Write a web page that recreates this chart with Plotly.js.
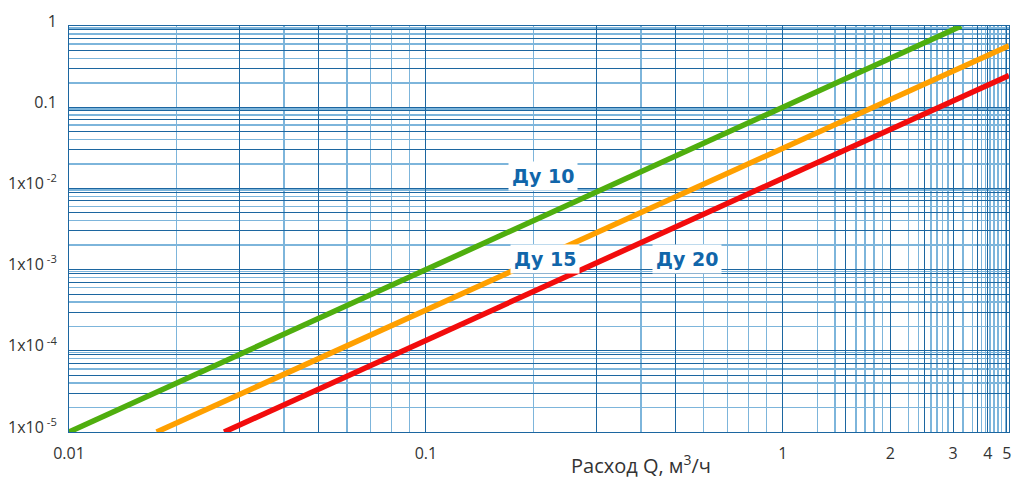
<!DOCTYPE html>
<html>
<head>
<meta charset="utf-8">
<script src="https://cdn.plot.ly/plotly-3.0.1.min.js"></script>
<style>html,body{margin:0;padding:0;background:#fff;}#chart{width:1014px;height:481px;}</style>
</head>
<body>
<div id="chart"></div>
<script>
// Series (flow Q, m3/h  ->  pressure drop)
const seriesNames = ['Ду 10', 'Ду 15', 'Ду 20'];
const q_du10 = [0.01, 3.16];
const dp_du10 = [1e-5, 1.0];
const q_du15 = [0.0176, 4.3];
const dp_du15 = [1e-5, 0.57];
const q_du20 = [0.0272, 4.3];
const dp_du20 = [1e-5, 0.245];

// Series label anchor points (data coords)
const labelQ = [0.213, 0.215, 0.538];
const labelDp = [0.0142, 0.00135, 0.00135];

// Tick labels
const xTickLabels = ['0.01', '0.1', '1', '2', '3', '4', '5'];
const xTickAt = [0.01, 0.1, 1, 2, 3, 3.75, 4.24];
const yTickLabels = ['1x10<sup> -5</sup>', '1x10<sup> -4</sup>', '1x10<sup> -3</sup>', '1x10<sup> -2</sup>', '0.1', '1'];
const yTickAt = [1e-5, 1e-4, 1e-3, 1e-2, 0.1, 1];

const xTitle = 'Расход Q, м<sup>3</sup>/ч';

// ---- grid values (layout only) ----
const darkBlue = '#1c66a0';
const lightBlue = '#7db5db';
function round(v){ return parseFloat(v.toPrecision(6)); }

// X grid
const xDarkMult = [1, 3, 5];
const xLightMult = [2, 4, 6, 7, 8, 9];
const xDark = [], xLight = [];
[-2, -1].forEach(k => {
  xDarkMult.forEach(m => xDark.push(round(m * Math.pow(10, k))));
  xLightMult.forEach(m => xLight.push(round(m * Math.pow(10, k))));
});
[1, 1.5, 2, 2.5, 3, 3.5].forEach(v => xDark.push(v));
[1.25, 1.4, 1.6, 1.7, 1.8, 1.9, 2.25, 2.4, 2.6, 2.7, 2.8, 2.9, 3.2, 3.4, 3.6, 3.7, 3.8, 3.9, 4, 4.1, 4.2].forEach(v => xLight.push(v));

const xMajorVals = [], xMajorText = [];
xDark.concat(xTickAt).forEach(v => {
  if (xMajorVals.indexOf(v) >= 0) return;
  xMajorVals.push(v);
  const i = xTickAt.indexOf(v);
  xMajorText.push(i >= 0 ? xTickLabels[i] : '');
});

// Y grid
const yDarkMult = [1, 3, 5, 7, 9];
const yLightMult = [2, 4, 6, 8, 9.5];
const yMajorVals = [], yMajorText = [], yLight = [];
[-5, -4, -3, -2, -1].forEach(k => {
  yDarkMult.forEach(m => {
    const v = round(m * Math.pow(10, k));
    yMajorVals.push(v);
    const i = yTickAt.indexOf(v);
    yMajorText.push(i >= 0 ? yTickLabels[i] : '');
  });
  yLightMult.forEach(m => yLight.push(round(m * Math.pow(10, k))));
});
yMajorVals.push(1); yMajorText.push('1');

const lineColors = ['#4fae0e', '#ffa000', '#f20c0c'];
const qs = [q_du10, q_du15, q_du20];
const dps = [dp_du10, dp_du15, dp_du20];

const traces = qs.map((q, i) => ({
  type: 'scatter', mode: 'lines', name: seriesNames[i],
  x: q, y: dps[i],
  line: {color: lineColors[i], width: 5.5},
  hoverinfo: 'skip'
}));

const annotations = seriesNames.map((n, i) => ({
  x: Math.log10(labelQ[i]), y: Math.log10(labelDp[i]), xref: 'x', yref: 'y',
  text: '<b>' + n + '</b>', showarrow: false,
  font: {family: 'DejaVu Sans', size: 19, color: '#1166aa'},
  bgcolor: '#ffffff', borderpad: 3
}));
annotations.push({
  xref: 'paper', yref: 'paper', x: 0.6085, y: -0.079, xanchor: 'center', yanchor: 'middle',
  text: xTitle, showarrow: false,
  font: {family: 'Open Sans', size: 20, color: '#333333'}
});

const layout = {
  width: 1014, height: 481,
  margin: {l: 69, r: 5, t: 26, b: 49},
  paper_bgcolor: '#ffffff', plot_bgcolor: '#ffffff',
  showlegend: false,
  font: {family: 'Open Sans', size: 16, color: '#333333'},
  xaxis: {
    type: 'log', range: [-2, Math.log10(4.3)],
    tickmode: 'array', tickvals: xMajorVals, ticktext: xMajorText,
    showgrid: true, gridcolor: darkBlue, gridwidth: 1,
    minor: {tickmode: 'array', tickvals: xLight, showgrid: true, gridcolor: lightBlue, gridwidth: 1.5, ticks: ''},
    ticks: '', showline: true, mirror: true, linecolor: darkBlue, linewidth: 1,
    zeroline: false, ticklabelstandoff: 7,
    tickfont: {family: 'Open Sans', size: 16, color: '#333333'}
  },
  yaxis: {
    type: 'log', range: [-5, 0],
    tickmode: 'array', tickvals: yMajorVals, ticktext: yMajorText,
    showgrid: true, gridcolor: darkBlue, gridwidth: 1,
    minor: {tickmode: 'array', tickvals: yLight, showgrid: true, gridcolor: lightBlue, gridwidth: 1.5, ticks: ''},
    ticks: '', showline: true, mirror: true, linecolor: darkBlue, linewidth: 1,
    zeroline: false, ticklabelshift: -5, ticklabelstandoff: 8,
    tickfont: {family: 'Open Sans', size: 16, color: '#333333'}
  },
  annotations: annotations
};

Plotly.newPlot('chart', traces, layout, {displayModeBar: false, staticPlot: true});
</script>
</body>
</html>
